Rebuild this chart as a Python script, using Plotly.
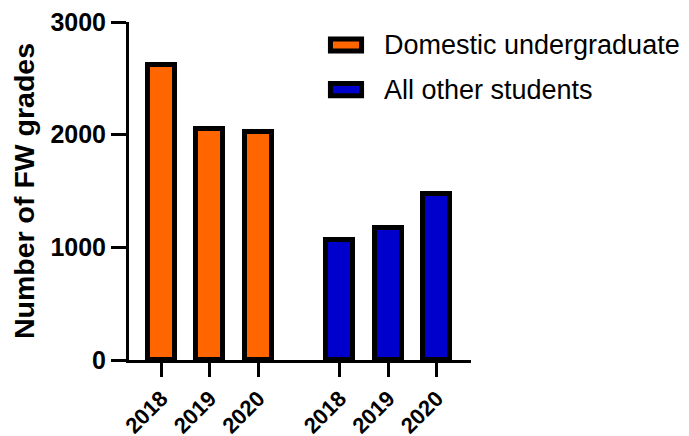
import plotly.graph_objects as go

# ---- data ----
years = ["2018", "2019", "2020"]
domestic_undergrad = [2620, 2050, 2020]
all_other_students = [1065, 1175, 1473]
series_names = ["Domestic undergraduate", "All other students"]
y_ticks = [0, 1000, 2000, 3000]

# ---- styling ----
ORANGE = "#FF6600"
BLUE = "#0000CC"
FONT = "Liberation Sans, Arial, Helvetica, sans-serif"
GROUP_GAP = 1.68
BAR_W = 0.56

x_dom = [i for i in range(len(years))]
x_oth = [len(years) - 1 + GROUP_GAP + i for i in range(len(years))]

fig = go.Figure()
fig.add_trace(go.Bar(x=x_dom, y=domestic_undergrad, name=series_names[0], width=BAR_W,
                     marker=dict(color=ORANGE, line=dict(color="black", width=5)),
                     showlegend=False))
fig.add_trace(go.Bar(x=x_oth, y=all_other_students, name=series_names[1], width=BAR_W,
                     marker=dict(color=BLUE, line=dict(color="black", width=5)),
                     showlegend=False))

# manual legend (large swatches as in the reference)
legend_y = [0.932, 0.800]
for name, col, yy in zip(series_names, [ORANGE, BLUE], legend_y):
    fig.add_shape(type="rect", xref="paper", yref="paper",
                  x0=0.589, x1=0.68, y0=yy - 0.018, y1=yy + 0.018,
                  fillcolor=col, line=dict(color="black", width=5))
    fig.add_annotation(x=0.74, y=yy, xref="paper", yref="paper", text=name,
                       showarrow=False, xanchor="left", yanchor="middle",
                       font=dict(family=FONT, size=27, color="black"))

fig.update_layout(
    width=689, height=436,
    margin=dict(l=121, r=226, t=14, b=84, autoexpand=False),
    plot_bgcolor="white", paper_bgcolor="white",
    bargap=0,
    font=dict(family=FONT, color="black"),
)
fig.update_xaxes(range=[-0.666, 6.385], tickmode="array", automargin=False,
                 tickvals=x_dom + x_oth, ticktext=years + years, tickangle=-45,
                 ticklabeloverflow="allow",
                 tickfont=dict(family=FONT, size=22, color="black", weight="bold"),
                 showline=True, linecolor="black", linewidth=3,
                 ticks="outside", ticklen=14, tickwidth=3, tickcolor="black",
                 showgrid=False, zeroline=False)
fig.update_yaxes(range=[0, 3000], tickmode="array", tickvals=y_ticks, automargin=False,
                 ticklabeloverflow="allow",
                 tickfont=dict(family=FONT, size=25, color="black", weight="bold"),
                 showline=True, linecolor="black", linewidth=3,
                 ticks="outside", ticklen=15, tickwidth=3, tickcolor="black",
                 showgrid=False, zeroline=False,
                 title=dict(text="<b>Number of FW grades</b>", standoff=8,
                            font=dict(family=FONT, size=28.5, color="black")))

fig.write_html("out.html")
